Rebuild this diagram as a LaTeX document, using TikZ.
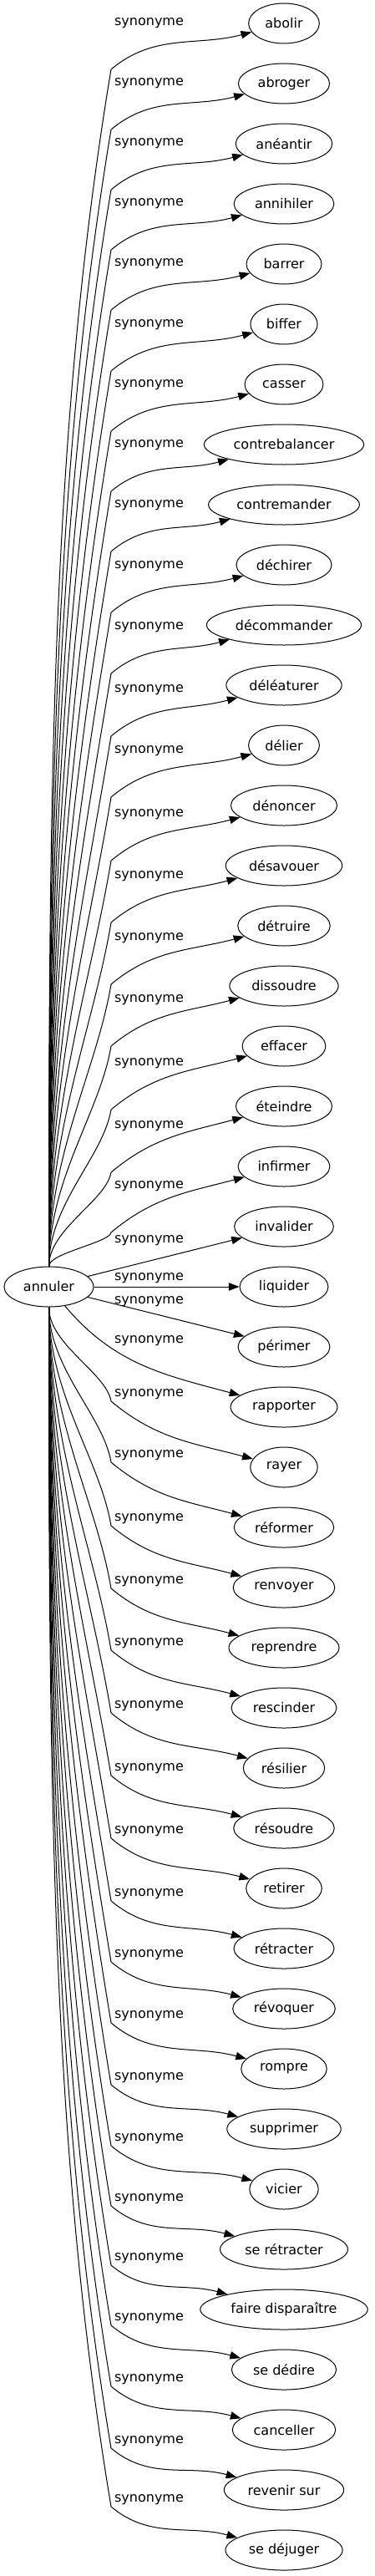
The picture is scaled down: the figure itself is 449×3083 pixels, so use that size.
\documentclass[tikz,border=0pt]{standalone}
\usepackage{fontspec}
\setmainfont{DejaVu Sans}
\usetikzlibrary{arrows.meta,shapes.geometric}

\begin{document}
\begin{tikzpicture}[x=0.75pt, y=-0.75pt,
  every node/.style={font=\fontsize{12}{14}\selectfont},
  word/.style={draw, ellipse, line width=0.75pt, inner xsep=5.5pt,
               inner ysep=2pt, minimum height=36pt},
  lbl/.style={inner sep=0pt},
  ar/.style={-{Triangle[length=9.5pt,width=7pt]}, line width=0.75pt}]
\useasboundingbox (0,0) rectangle (449,3083);
\node[word] (annuler) at (58.5,1540) {annuler};
% targets, labels and the bent edges above and below
\foreach \i/\nm/\txt/\ly in {
  1/abolir/abolir/28, 2/abroger/abroger/100, 3/aneantir/anéantir/172,
  4/annihiler/annihiler/244, 5/barrer/barrer/316, 6/biffer/biffer/389,
  7/casser/casser/461, 8/contrebalancer/contrebalancer/533,
  9/contremander/contremander/605, 10/dechirer/déchirer/678,
  11/decommander/décommander/751, 12/deleaturer/déléaturer/826,
  13/delier/délier/899, 14/denoncer/dénoncer/975, 15/desavouer/désavouer/1049,
  16/detruire/détruire/1123, 17/dissoudre/dissoudre/1197,
  18/effacer/effacer/1273, 19/eteindre/éteindre/1348,
  20/infirmer/infirmer/1420, 21/invalider/invalider/1485,
  22/liquider/liquider/1530, 23/perimer/périmer/1558,
  24/rapporter/rapporter/1605, 25/rayer/rayer/1669,
  26/reformer/réformer/1742, 27/renvoyer/renvoyer/1818,
  28/reprendre/reprendre/1893, 29/rescinder/rescinder/1967,
  30/resilier/résilier/2042, 31/resoudre/résoudre/2117,
  32/retirer/retirer/2192, 33/retracter/rétracter/2267,
  34/revoquer/révoquer/2340, 35/rompre/rompre/2413,
  36/supprimer/supprimer/2487, 37/vicier/vicier/2560,
  38/seretracter/se rétracter/2632, 39/fairedisparaitre/faire disparaître/2703,
  40/sededire/se dédire/2775, 41/canceller/canceller/2848,
  42/revenirsur/revenir sur/2922, 43/sedejuger/se déjuger/2992}{
  \pgfmathsetmacro{\yt}{28+72*(\i-1)}
  \node[word] (\nm) at (340,\yt) {\txt};
  \node[lbl] (l\nm) at (178.5,\ly) {synonyme};
  \ifnum\i<21
    \pgfmathsetmacro{\h}{1461-\ly}
    \coordinate (k\nm) at (133,\ly+55);
    \draw[ar] (annuler.north) .. controls (58.5,1516-0.4*\h)
      and (133-0.05*\h,\ly+55+0.3*\h) .. (k\nm) to[out=40,in=195] (\nm);
  \fi
  \ifnum\i>24
    \pgfmathsetmacro{\h}{\ly-1556}
    \coordinate (k\nm) at (133,\ly+8);
    \draw[ar] (annuler.south) .. controls (58.5,1564+0.4*\h)
      and (133-0.05*\h,\ly+8-0.3*\h) .. (k\nm) to[out=-40,in=165] (\nm);
  \fi
}
\draw[ar] (annuler.15) -- (invalider.195);
\draw[ar] (annuler.east) -- (liquider.west);
\draw[ar] (annuler.-15) -- (perimer.165);
\draw[ar] (annuler.-50) to[out=-50,in=165] (rapporter);
\end{tikzpicture}
\end{document}
